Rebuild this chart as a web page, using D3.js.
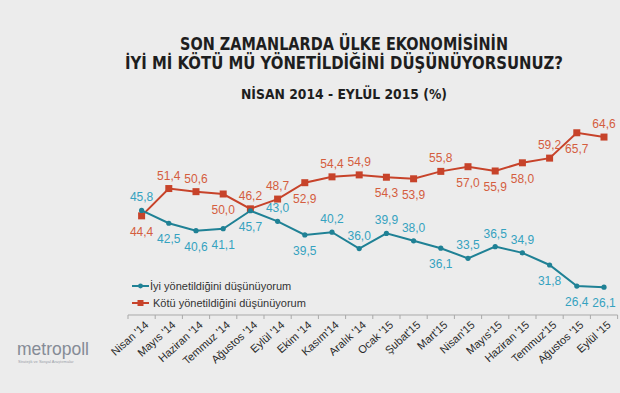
<!DOCTYPE html>
<html>
<head>
<meta charset="utf-8">
<script src="https://cdn.jsdelivr.net/npm/d3@7"></script>
<style>
  html, body { margin: 0; padding: 0; background: #ececec; }
  svg { display: block; }
  .title { font-family: "Liberation Sans Narrow", "DejaVu Sans Condensed", "Liberation Sans", sans-serif; font-weight: bold; fill: #1e1e1e; }
  .lbl { font-family: "Liberation Sans", Arial, sans-serif; font-size: 12px; }
  .tick text { font-family: "Liberation Sans", Arial, sans-serif; font-size: 11px; fill: #2a2a2a; }
  .legend text { font-family: "Liberation Sans", Arial, sans-serif; font-size: 11px; fill: #333; }
</style>
</head>
<body>
<div id="chart"></div>
<script>
const months = ["Nisan '14", "Mayıs '14", "Haziran '14", "Temmuz '14", "Ağustos '14", "Eylül '14",
  "Ekim '14", "Kasım'14", "Aralık '14", "Ocak '15", "Şubat'15", "Mart'15", "Nisan'15",
  "Mayıs'15", "Haziran '15", "Temmuz'15", "Ağustos '15", "Eylül '15"];

const iyi = [45.8, 42.5, 40.6, 41.1, 45.7, 43.0, 39.5, 40.2, 36.0, 39.9, 38.0, 36.1, 33.5, 36.5, 34.9, 31.8, 26.4, 26.1];
const kotu = [44.4, 51.4, 50.6, 50.0, 46.2, 48.7, 52.9, 54.4, 54.9, 54.3, 53.9, 55.8, 57.0, 55.9, 58.0, 59.2, 65.7, 64.6];

// where each value label sits: "a" above the point, "b" below
const iyiPlace = ["a", "b", "b", "b", "b", "a", "b", "a", "a", "a", "a", "b", "a", "a", "a", "b", "b", "b"];
const kotuPlace = ["b", "a", "a", "b", "a", "a", "b", "a", "a", "b", "b", "a", "b", "b", "b", "a", "b", "a"];

const titleLines = ["SON ZAMANLARDA ÜLKE EKONOMİSİNİN", "İYİ Mİ KÖTÜ MÜ YÖNETİLDİĞİNİ DÜŞÜNÜYORSUNUZ?", "NİSAN 2014 - EYLÜL 2015 (%)"];
const legendNames = ["İyi yönetildiğini düşünüyorum", "Kötü yönetildiğini düşünüyorum"];

const width = 620, height = 393;
const blue = "#1f8195", blueText = "#35a2c0";
const red = "#c7432a", redText = "#d45d3e";

const svg = d3.select("#chart").append("svg")
  .attr("width", width).attr("height", height);

svg.append("rect").attr("width", width).attr("height", height).attr("fill", "#ececec");

// title
const titleSpec = [
  { y: 50, size: 17, len: 328 },
  { y: 69, size: 17, len: 438 },
  { y: 99, size: 14, len: 206 }
];
svg.selectAll("text.title").data(titleLines).join("text")
  .attr("class", "title")
  .attr("x", 344)
  .attr("y", (d, i) => titleSpec[i].y)
  .attr("text-anchor", "middle")
  .attr("font-size", (d, i) => titleSpec[i].size)
  .attr("textLength", (d, i) => titleSpec[i].len)
  .attr("lengthAdjust", "spacingAndGlyphs")
  .text(d => d);

const x = d3.scaleBand().domain(months).range([128, 617.6]);
const y = d3.scaleLinear().domain([20, 70]).range([311, 116]);
const cx = d => x(d) + x.bandwidth() / 2;

// x axis
const axisY = 315;
const xAxis = svg.append("g")
  .attr("transform", `translate(0,${axisY})`);
xAxis.append("line")
  .attr("x1", 128).attr("x2", 617.6)
  .attr("stroke", "#a9a9a9").attr("stroke-width", 1);
xAxis.selectAll("line.tk").data(d3.range(months.length + 1)).join("line")
  .attr("class", "tk")
  .attr("x1", i => 128 + i * x.step()).attr("x2", i => 128 + i * x.step())
  .attr("y1", 0).attr("y2", 4)
  .attr("stroke", "#a9a9a9");
xAxis.selectAll("g.tick").data(months).join("g")
  .attr("class", "tick")
  .attr("transform", d => `translate(${cx(d) + 5},8) rotate(-42)`)
  .append("text")
  .attr("text-anchor", "end")
  .attr("dy", "0.35em")
  .text(d => d);

const line = d3.line().x((d, i) => cx(months[i])).y(d => y(d));

// Kötü series
svg.append("path").datum(kotu)
  .attr("d", line).attr("fill", "none")
  .attr("stroke", red).attr("stroke-width", 2);
svg.selectAll("rect.kotu").data(kotu).join("rect")
  .attr("class", "kotu")
  .attr("x", (d, i) => cx(months[i]) - 3.5)
  .attr("y", d => y(d) - 3.5)
  .attr("width", 7).attr("height", 7)
  .attr("fill", red);

// İyi series
svg.append("path").datum(iyi)
  .attr("d", line).attr("fill", "none")
  .attr("stroke", blue).attr("stroke-width", 2);
svg.selectAll("circle.iyi").data(iyi).join("circle")
  .attr("class", "iyi")
  .attr("cx", (d, i) => cx(months[i]))
  .attr("cy", d => y(d))
  .attr("r", 2.6)
  .attr("fill", blue);

const fmt = v => d3.format(".1f")(v).replace(".", ",");

function labels(data, place, color, cls) {
  svg.selectAll("text." + cls).data(data).join("text")
    .attr("class", "lbl " + cls)
    .attr("x", (d, i) => cx(months[i]))
    .attr("y", (d, i) => y(d) + (place[i] === "a" ? -9 : 20))
    .attr("text-anchor", "middle")
    .attr("fill", color)
    .text(fmt);
}
labels(kotu, kotuPlace, redText, "kl");
labels(iyi, iyiPlace, blueText, "il");

// legend
const legend = svg.append("g").attr("class", "legend");
const legendColors = [blue, red];
legendNames.forEach((name, i) => {
  const ly = 286 + i * 17;
  legend.append("line")
    .attr("x1", 132).attr("x2", 149).attr("y1", ly).attr("y2", ly)
    .attr("stroke", legendColors[i]).attr("stroke-width", 2);
  if (i === 0) {
    legend.append("circle").attr("cx", 140.5).attr("cy", ly).attr("r", 2.4).attr("fill", blue);
  } else {
    legend.append("rect").attr("x", 137.5).attr("y", ly - 3).attr("width", 6).attr("height", 6).attr("fill", red);
  }
  legend.append("text")
    .attr("x", i === 0 ? 150 : 153).attr("y", ly + 4)
    .text(name);
});

// logo
svg.append("text")
  .attr("x", 17).attr("y", 355)
  .attr("font-family", "Liberation Sans, Arial, sans-serif")
  .attr("font-size", 19).attr("fill", "#858b96")
  .attr("textLength", 72).attr("lengthAdjust", "spacingAndGlyphs")
  .text("metropoll");
svg.append("text")
  .attr("x", 18).attr("y", 363)
  .attr("font-family", "Liberation Sans, Arial, sans-serif")
  .attr("font-size", 4).attr("fill", "#9aa0a8")
  .text("Stratejik ve Sosyal Araştırmalar");
</script>
</body>
</html>
